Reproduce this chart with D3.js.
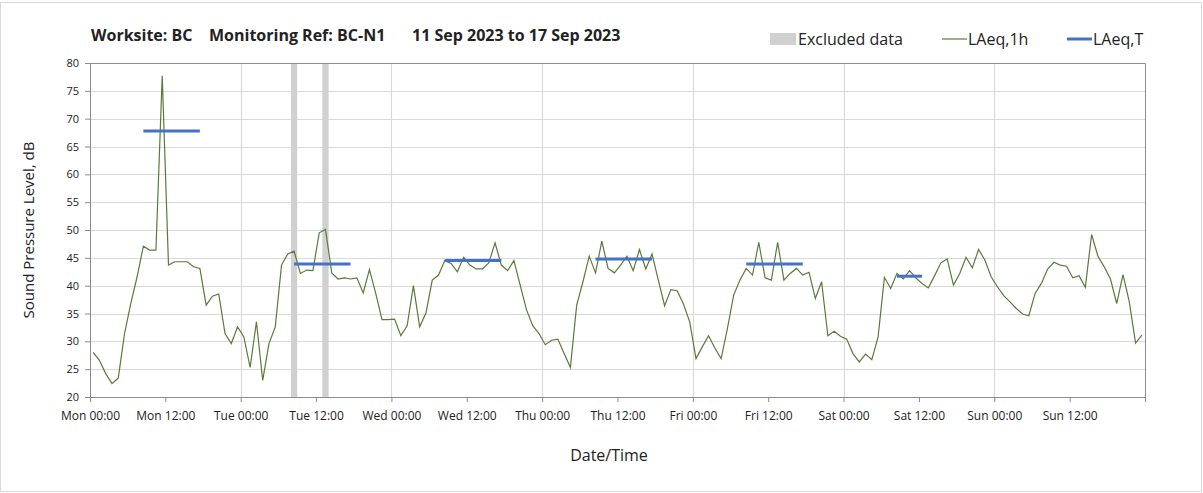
<!DOCTYPE html>
<html>
<head>
<meta charset="utf-8">
<script src="https://cdn.jsdelivr.net/npm/d3@7"></script>
<style>
	body { margin: 0; background: #fff; }
	svg text { font-family: "Open Sans", "Noto Sans", sans-serif; fill: #222; }
</style>
</head>
<body>
<svg id="chart"></svg>
<script>
// hourly LAeq,1h from Mon 00:00 (one value per hour, plotted mid-hour)
var laeq1h = [
	28.0, 26.6, 24.2, 22.4, 23.4, 31.4, 36.8, 41.6, 47.1, 46.4, 46.4, 77.7,
	43.7, 44.3, 44.3, 44.3, 43.4, 43.1, 36.5, 38.1, 38.5, 31.4, 29.6, 32.6,
	30.8, 25.3, 33.5, 23.0, 29.6, 32.6, 43.7, 45.7, 46.2, 42.2, 42.8, 42.7,
	49.5, 50.1, 42.3, 41.2, 41.4, 41.2, 41.4, 38.7, 42.9, 38.6, 33.9, 33.9,
	34.0, 31.0, 32.8, 40.0, 32.6, 35.1, 41.0, 41.9, 44.5, 44.0, 42.5, 45.1,
	43.7, 43.0, 43.0, 44.1, 47.7, 43.7, 42.7, 44.5, 40.1, 35.7, 32.8, 31.4,
	29.4, 30.2, 30.4, 27.8, 25.3, 36.5, 40.7, 45.3, 42.3, 48.0, 43.1, 42.3,
	43.7, 45.3, 42.7, 46.5, 43.0, 45.7, 41.0, 36.4, 39.3, 39.1, 36.7, 33.5,
	26.9, 29.0, 31.0, 28.8, 26.9, 32.3, 38.3, 41.0, 43.1, 41.9, 47.8, 41.4,
	41.0, 47.8, 41.0, 42.2, 43.1, 41.9, 42.4, 37.7, 40.7, 31.0, 31.8, 30.9,
	30.4, 27.8, 26.3, 27.7, 26.7, 30.8, 41.5, 39.5, 42.2, 41.2, 42.7, 41.4,
	40.4, 39.6, 41.8, 44.1, 44.8, 40.1, 42.2, 45.1, 43.2, 46.5, 44.6, 41.6,
	39.8, 38.2, 37.1, 35.9, 34.9, 34.6, 38.6, 40.4, 43.0, 44.2, 43.7, 43.5,
	41.4, 41.8, 39.7, 49.2, 45.3, 43.4, 41.2, 36.8, 42.0, 37.1, 29.7, 31.1
];

// LAeq,T per day: first and last hour index and level
var periodStart = [8, 32, 56, 80, 104, 128];
var periodEnd = [17, 41, 65, 89, 113, 132];
var periodLevel = [67.8, 43.9, 44.5, 44.8, 43.9, 41.7];

// excluded hours (index of hour)
var excludedHours = [32, 37];

var tickLabels = ['Mon 00:00', 'Mon 12:00', 'Tue 00:00', 'Tue 12:00', 'Wed 00:00', 'Wed 12:00',
	'Thu 00:00', 'Thu 12:00', 'Fri 00:00', 'Fri 12:00', 'Sat 00:00', 'Sat 12:00',
	'Sun 00:00', 'Sun 12:00'];
var yTicks = [20, 25, 30, 35, 40, 45, 50, 55, 60, 65, 70, 75, 80];
var titleParts = ['Worksite: BC', 'Monitoring Ref: BC-N1', '11 Sep 2023 to 17 Sep 2023'];

var width = 1203, height = 493;
var plotLeft = 90, plotRight = 1145, plotTop = 63, plotBottom = 397;

var svg = d3.select('#chart')
	.attr('width', width)
	.attr('height', height);

// outer border
svg.append('rect')
	.attr('x', 0.5).attr('y', 2.5)
	.attr('width', width - 2).attr('height', height - 4)
	.attr('fill', 'none')
	.attr('stroke', '#d9d9d9');

var x = d3.scaleLinear().domain([0, 168]).range([plotLeft, plotRight]);
var y = d3.scaleLinear().domain([20, 80]).range([plotBottom, plotTop]);

// gridlines
svg.append('g')
	.selectAll('line')
	.data(yTicks.slice(1))
	.enter()
	.append('line')
	.attr('x1', plotLeft).attr('x2', plotRight)
	.attr('y1', function(d) { return Math.round(y(d)) + 0.5; })
	.attr('y2', function(d) { return Math.round(y(d)) + 0.5; })
	.attr('stroke', '#d9d9d9')
	.attr('stroke-width', 1.2);

svg.append('g')
	.selectAll('line')
	.data(d3.range(24, 168, 24))
	.enter()
	.append('line')
	.attr('y1', plotTop).attr('y2', plotBottom)
	.attr('x1', function(d) { return Math.round(x(d)) + 0.5; })
	.attr('x2', function(d) { return Math.round(x(d)) + 0.5; })
	.attr('stroke', '#d9d9d9')
	.attr('stroke-width', 1.2);

// excluded data bands
svg.append('g')
	.selectAll('rect')
	.data(excludedHours)
	.enter()
	.append('rect')
	.attr('x', function(d) { return x(d); })
	.attr('width', function(d) { return x(d + 1) - x(d); })
	.attr('y', plotTop)
	.attr('height', plotBottom - plotTop)
	.attr('fill', '#d0d0d0');

// axes
var yAxis = d3.axisLeft(y).tickValues(yTicks).tickSize(5).tickPadding(6);
var gy = svg.append('g')
	.attr('transform', 'translate(' + plotLeft + ',0)')
	.call(yAxis);
gy.selectAll('text').style('font-size', '11px').attr('fill', '#333');

var xAxis = d3.axisBottom(x)
	.tickValues(d3.range(0, 168, 12))
	.tickFormat(function(d, i) { return tickLabels[i]; })
	.tickSize(5).tickPadding(9);
var gx = svg.append('g')
	.attr('transform', 'translate(0,' + plotBottom + ')')
	.call(xAxis);
gx.selectAll('text').style('font-size', '12px').attr('fill', '#333');

[gx, gy].forEach(function(g)
{
	g.select('.domain').attr('stroke', '#8c8c8c');
	g.selectAll('.tick line').attr('stroke', '#8c8c8c');
});

// top and right frame
svg.append('path')
	.attr('d', 'M' + plotLeft + ',' + (plotTop + 0.5) + 'H' + (plotRight + 0.5) + 'V' + plotBottom)
	.attr('fill', 'none')
	.attr('stroke', '#8c8c8c');

// right end tick
svg.append('line')
	.attr('x1', plotRight + 0.5).attr('x2', plotRight + 0.5)
	.attr('y1', plotBottom).attr('y2', plotBottom + 5)
	.attr('stroke', '#8c8c8c');

// LAeq,1h line
var line = d3.line()
	.x(function(d, i) { return x(i + 0.5); })
	.y(function(d) { return y(d); });

svg.append('path')
	.datum(laeq1h)
	.attr('d', line)
	.attr('fill', 'none')
	.attr('stroke', '#5a7a3a')
	.attr('stroke-width', 1.2);

// LAeq,T segments
svg.append('g')
	.selectAll('line')
	.data(periodLevel)
	.enter()
	.append('line')
	.attr('x1', function(d, i) { return x(periodStart[i] + 0.5); })
	.attr('x2', function(d, i) { return x(periodEnd[i] + 0.5); })
	.attr('y1', function(d) { return y(d); })
	.attr('y2', function(d) { return y(d); })
	.attr('stroke', '#4472c4')
	.attr('stroke-width', 3);

// title, three parts spaced like the original
var titleX = [91, 209, 412];
svg.append('g')
	.selectAll('text')
	.data(titleParts)
	.enter()
	.append('text')
	.attr('x', function(d, i) { return titleX[i]; })
	.attr('y', 41)
	.style('font-size', '16px')
	.style('font-weight', 'bold')
	.text(function(d) { return d; });

svg.append('text')
	.attr('transform', 'translate(34,' + ((plotTop + plotBottom) / 2) + ') rotate(-90)')
	.attr('text-anchor', 'middle')
	.style('font-size', '15px')
	.text('Sound Pressure Level, dB');

svg.append('text')
	.attr('x', 609).attr('y', 461)
	.attr('text-anchor', 'middle')
	.style('font-size', '16px')
	.text('Date/Time');

// legend
var legend = svg.append('g');
legend.append('rect')
	.attr('x', 770).attr('y', 33).attr('width', 26).attr('height', 12)
	.attr('fill', '#d0d0d0');
legend.append('text').attr('x', 798).attr('y', 45).style('font-size', '16px').text('Excluded data');
legend.append('line')
	.attr('x1', 942).attr('x2', 967).attr('y1', 39).attr('y2', 39)
	.attr('stroke', '#5a7a3a').attr('stroke-width', 1.2);
legend.append('text').attr('x', 968).attr('y', 45).style('font-size', '16px').text('LAeq,1h');
legend.append('line')
	.attr('x1', 1067).attr('x2', 1092).attr('y1', 39).attr('y2', 39)
	.attr('stroke', '#4472c4').attr('stroke-width', 3);
legend.append('text').attr('x', 1093).attr('y', 45).style('font-size', '16px').text('LAeq,T');
</script>
</body>
</html>
